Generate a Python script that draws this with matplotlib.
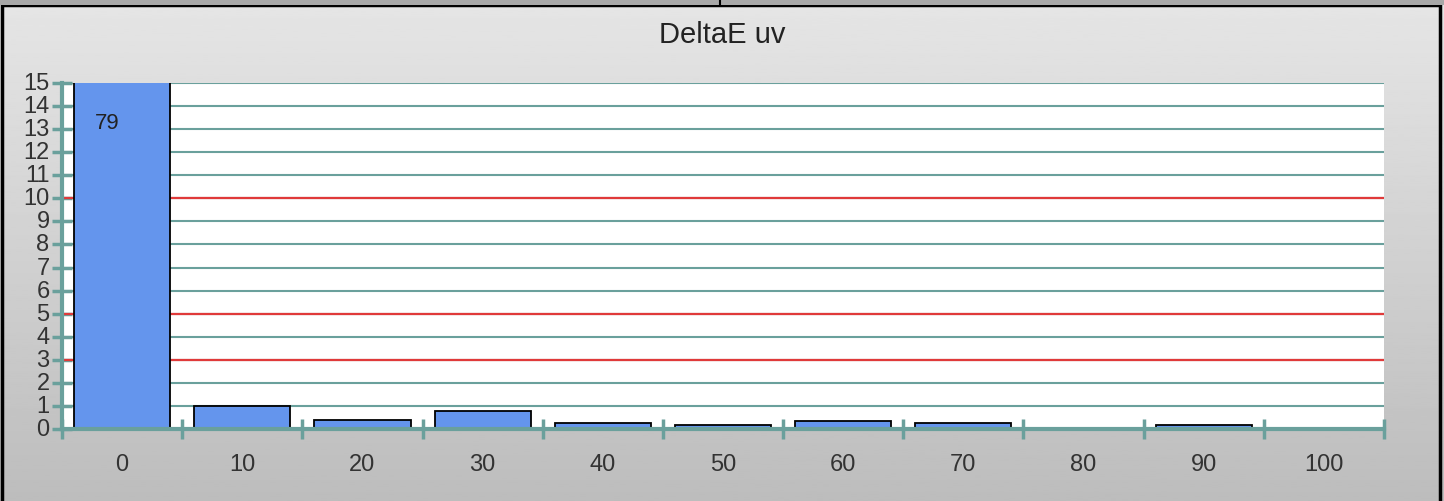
import numpy as np
import matplotlib
matplotlib.use('Agg')
import matplotlib.pyplot as plt
from matplotlib.patches import Rectangle

plt.rcParams['font.family'] = ['Liberation Sans', 'DejaVu Sans']

# DeltaE uv histogram values
categories = ['0', '10', '20', '30', '40', '50', '60', '70', '80', '90', '100']
values = [79, 1.0, 0.4, 0.77, 0.26, 0.17, 0.35, 0.26, 0.0, 0.17, 0.0]
limit_lines = [3, 5, 10]

teal = '#6aa09c'

fig = plt.figure(figsize=(14.44, 5.02), dpi=100)

# grey gradient background
bg = fig.add_axes([0, 0, 1, 1], zorder=-10)
grad = np.linspace(0.90, 0.74, 256).reshape(-1, 1)
bg.imshow(grad, aspect='auto', cmap='gray', vmin=0, vmax=1, extent=[0, 1, 0, 1])
bg.set_xlim(0, 1)
bg.set_ylim(0, 1)
bg.axis('off')
# outer frame
bg.add_patch(Rectangle((0.0015, -0.01), 0.996, 0.9985, fill=False, edgecolor='black', lw=2.5))
bg.add_patch(Rectangle((0, 0.9885), 1, 0.02, facecolor='#a8a8a8', edgecolor='none'))
bg.plot([0.4985, 0.4985], [0.9885, 1.0], color='black', lw=1.5)

ax = fig.add_axes([62 / 1444, 1 - 430 / 502, (1384 - 62) / 1444, (430 - 84) / 502])
ax.set_facecolor('white')
x = np.arange(len(categories))
ax.bar(x, values, width=0.8, color='#6495ed', edgecolor='black', linewidth=1.3, zorder=3)
ax.text(x[0] - 0.12, 13.3, str(values[0]), ha='center', va='center', fontsize=16, color='#222222', zorder=4)

ax.set_xlim(-0.5, len(categories) - 0.5)
ax.set_ylim(0, 15)

for yv in range(1, 16):
    ax.axhline(yv, color=teal, lw=1.5, zorder=1)
for yv in limit_lines:
    ax.axhline(yv, color='#e03a3a', lw=1.6, zorder=2)

for s in ['top', 'right']:
    ax.spines[s].set_visible(False)
for s in ['left', 'bottom']:
    ax.spines[s].set_color(teal)
    ax.spines[s].set_linewidth(3)
    ax.spines[s].set_zorder(5)

ax.set_xticks(x)
ax.set_xticklabels(categories)
ax.set_xticks(np.arange(-0.5, len(categories)), minor=True)
ax.tick_params(axis='x', which='major', length=0, pad=17, labelsize=17, labelcolor='#333333')
ax.tick_params(axis='x', which='minor', direction='inout', length=14, width=2.5, color=teal)
ax.set_yticks(range(0, 16))
ax.tick_params(axis='y', direction='inout', length=14, width=2.5, color=teal, pad=2,
               labelsize=17, labelcolor='#333333')
for lbl in ax.get_yticklabels():
    lbl.set_verticalalignment('center')

fig.text(0.5, 0.93, 'DeltaE uv', ha='center', va='center', fontsize=21, color='#222222')

fig.savefig('out.png', dpi=100)
